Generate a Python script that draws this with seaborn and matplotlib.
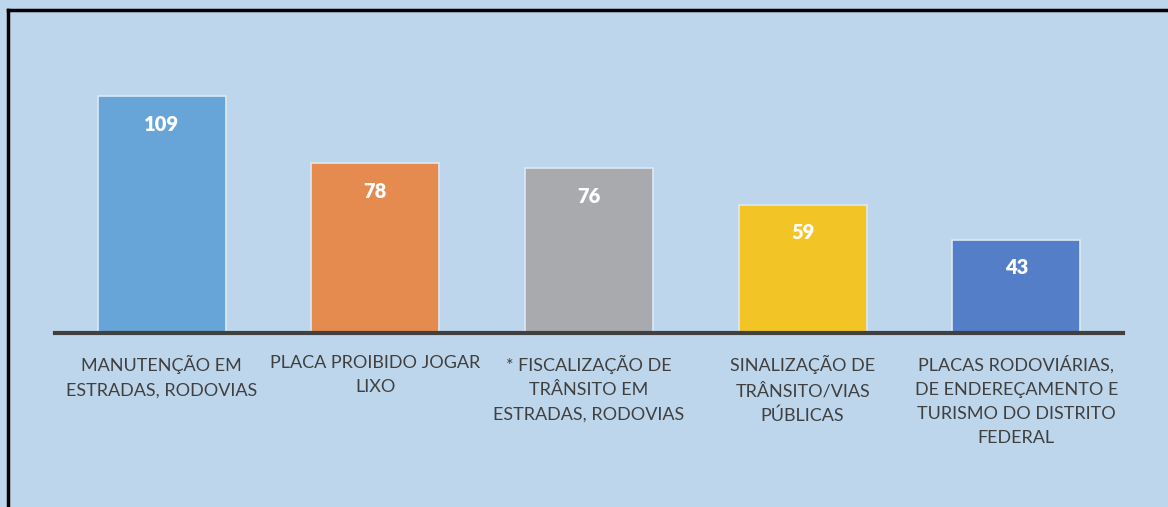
import numpy as np
import pandas as pd
import seaborn as sns
import matplotlib.pyplot as plt
from matplotlib.lines import Line2D

categories = [
    'MANUTENÇÃO EM\nESTRADAS, RODOVIAS',
    'PLACA PROIBIDO JOGAR\nLIXO',
    '* FISCALIZAÇÃO DE\nTRÂNSITO EM\nESTRADAS, RODOVIAS',
    'SINALIZAÇÃO DE\nTRÂNSITO/VIAS\nPÚBLICAS',
    'PLACAS RODOVIÁRIAS,\nDE ENDEREÇAMENTO E\nTURISMO DO DISTRITO\nFEDERAL',
]
values = [109, 78, 76, 59, 43]
bar_colors = ['#67A5D8', '#E58B4F', '#A8AAAD', '#F3C425', '#547FC8']

bg = '#BED6EC'

df = pd.DataFrame({'categoria': categories, 'valor': values})

fig = plt.figure(figsize=(11.68, 5.07), dpi=100, facecolor=bg)
ax = fig.add_axes([0.0471, 0.3432, 0.9144, 0.5146])
ax.set_facecolor(bg)

sns.barplot(data=df, x='categoria', y='valor', hue='categoria',
            palette=bar_colors, width=0.6, legend=False, ax=ax,
            edgecolor='#DCE9F5', linewidth=1.2, saturation=1)

ax.set_xlim(-0.5, 4.5)
ax.set_ylim(0, 120)

# value labels inside top of bars
for i, v in enumerate(values):
    ax.text(i, v - 13, str(v), ha='center', va='center', color='white',
            fontsize=14.5, fontweight='heavy', family=['Lato', 'DejaVu Sans'])

ax.set_xlabel('')
ax.set_ylabel('')
ax.set_yticks([])
for s in ['top', 'right', 'left']:
    ax.spines[s].set_visible(False)
ax.spines['bottom'].set_color('#404040')
ax.spines['bottom'].set_linewidth(3)
ax.tick_params(axis='x', length=0, pad=16)
ax.set_xticks(range(len(categories)))
ax.set_xticklabels(categories, fontsize=13, color='#404040',
                   family=['Lato', 'DejaVu Sans'], linespacing=1.62, va='top')

# outer frame (top and left edges visible)
fig.add_artist(Line2D([8 / 1168, 1.0], [1 - 10 / 507, 1 - 10 / 507],
                      transform=fig.transFigure, color='black', linewidth=2.5))
fig.add_artist(Line2D([8 / 1168, 8 / 1168], [0.0, 1 - 10 / 507],
                      transform=fig.transFigure, color='black', linewidth=2.5))

fig.savefig('out.png', dpi=100, facecolor=bg)
